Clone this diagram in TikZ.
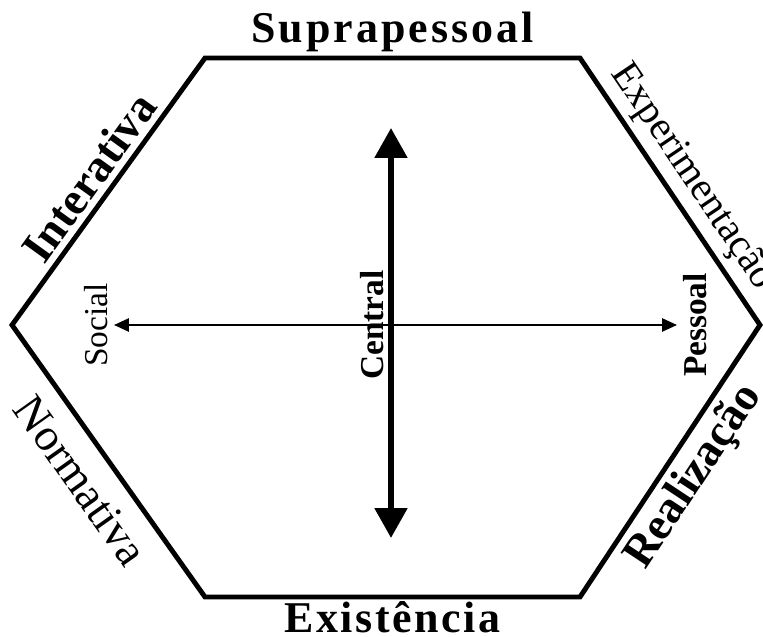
\documentclass[tikz,border=0pt]{standalone}
\usepackage{fontspec}
\setmainfont{Liberation Serif}
\usetikzlibrary{arrows.meta}

\tikzset{
  edgelabel/.style={font=\bfseries\fontsize{26}{30}\selectfont},
  widelabel/.style={font=\bfseries\fontsize{25}{29}\selectfont\addfontfeature{LetterSpace=#1}},
  thinlabel/.style={font=\fontsize{#1}{30}\selectfont},
  axislabel/.style={font=\bfseries\fontsize{19}{22}\selectfont,rotate=90},
}

\begin{document}
\begin{tikzpicture}[line join=miter]
  \useasboundingbox (0,0) rectangle (15.26,12.72);
  % hexagon corners
  \coordinate (L)  at (0.24,6.22);
  \coordinate (TL) at (4.10,11.56);
  \coordinate (TR) at (11.60,11.56);
  \coordinate (R)  at (15.20,6.22);
  \coordinate (BR) at (11.60,0.78);
  \coordinate (BL) at (4.10,0.78);

  \draw[line width=2.8pt]
    (L) -- node[sloped,above,edgelabel] (interativa) {Interativa}
    (TL) -- node[above=-1pt,widelabel=7] (supra) {Suprapessoal}
    (TR) -- node[sloped,above,thinlabel=23] (experim) {Experimentação}
    (R) -- node[sloped,below,edgelabel] (realiz) {Realização}
    (BR) -- node[below=-2pt,widelabel=6] (exist) {Existência}
    (BL) -- node[sloped,below=6pt,thinlabel=26] (normat) {Normativa}
    cycle;

  % axes
  \node[axislabel,font=\fontsize{19}{22}\selectfont] (social) at (1.92,6.22) {Social};
  \node[axislabel] (pessoal) at (13.9,6.22) {Pessoal};
  \coordinate (up)   at (7.82,10.16);
  \coordinate (down) at (7.82,1.96);

  \draw[{Triangle[length=8.5pt,width=7.4pt]}-{Triangle[length=8.5pt,width=7.4pt]},line width=1.4pt]
    (social) -- (pessoal);
  \draw[{Triangle[length=17pt,width=18pt]}-{Triangle[length=17pt,width=18pt]},line width=3.4pt]
    (up) -- (down);

  \node[axislabel] (central) at (7.45,6.22) {Central};
\end{tikzpicture}
\end{document}
